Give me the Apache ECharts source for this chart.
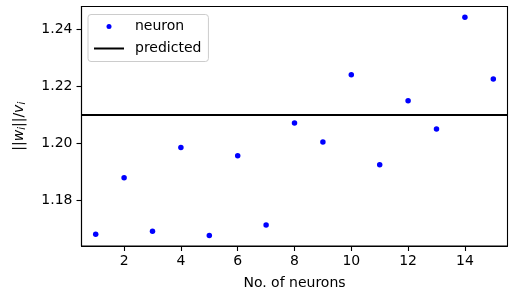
<!DOCTYPE html>
<html>
<head>
<meta charset="utf-8">
<script src="https://cdn.jsdelivr.net/npm/echarts@6/dist/echarts.min.js"></script>
<style>
  html, body { margin: 0; padding: 0; background: #fff; }
  #chart { width: 509px; height: 297px; }
</style>
</head>
<body>
<div id="chart"></div>
<script>
// 数据
const neuronX = [1, 2, 3, 4, 5, 6, 7, 8, 9, 10, 11, 12, 13, 14, 15]
const neuronY = [1.1681, 1.1879, 1.1692, 1.1985, 1.1677, 1.1956, 1.1714, 1.2071,
  1.2004, 1.2240, 1.1925, 1.2149, 1.2050, 1.2441, 1.2225]
const predicted = 1.2102
const xTicks = [2, 4, 6, 8, 10, 12, 14]
const yTicks = [1.18, 1.20, 1.22, 1.24]

const font = 'DejaVu Sans'
const chart = echarts.init(document.getElementById('chart'), null, { renderer: 'canvas' })

const option = {
  animation: false,
  backgroundColor: '#fff',
  textStyle: { fontFamily: font, color: '#000' },
  grid: {
    left: 81.5, right: 1.5, top: 6.5, bottom: 51,
    outerBoundsMode: 'none',
    containLabel: false,
    show: true, borderColor: '#000', borderWidth: 1.1, backgroundColor: 'transparent'
  },
  legend: {
    orient: 'vertical',
    left: 88, top: 14.5,
    padding: [5, 7, 6, 6],
    itemWidth: 30, itemHeight: 5, itemGap: 8,
    backgroundColor: 'rgba(255,255,255,0.8)',
    borderColor: '#cccccc', borderWidth: 1, borderRadius: 3,
    textStyle: { fontFamily: font, fontSize: 14, color: '#000', padding: [0, 0, 0, 6] },
    data: [
      { name: 'neuron', icon: 'circle' },
      { name: 'predicted', icon: 'path://M0,0L30,0L30,2L0,2Z' }
    ]
  },
  xAxis: {
    type: 'value',
    min: 0.5, max: 15.5,
    name: 'No. of neurons',
    nameLocation: 'middle',
    nameGap: 30,
    nameTextStyle: { fontFamily: font, fontSize: 14, color: '#000' },
    splitLine: { show: false },
    axisLine: { show: true, onZero: false, lineStyle: { color: '#000', width: 1.1 } },
    axisTick: { show: true, inside: false, length: 5, lineStyle: { color: '#000', width: 1.1 }, customValues: xTicks },
    axisLabel: { fontFamily: font, fontSize: 14, color: '#000', margin: 8, customValues: xTicks, formatter: v => String(v) }
  },
  yAxis: {
    type: 'value',
    min: 1.164, max: 1.2479,
    name: '||{w|w}{s|i}||/{w|v}{s|i}',
    nameLocation: 'middle',
    nameRotate: 90,
    nameGap: 54,
    nameTextStyle: {
      fontFamily: font, fontSize: 14, color: '#000',
      rich: {
        w: { fontFamily: font, fontSize: 14, fontStyle: 'italic', color: '#000' },
        s: { fontFamily: font, fontSize: 10, fontStyle: 'italic', color: '#000', verticalAlign: 'bottom', padding: [6, 0, 0, 0] }
      }
    },
    splitLine: { show: false },
    axisLine: { show: true, onZero: false, lineStyle: { color: '#000', width: 1.1 } },
    axisTick: { show: true, inside: false, length: 5, lineStyle: { color: '#000', width: 1.1 }, customValues: yTicks },
    axisLabel: { fontFamily: font, fontSize: 14, color: '#000', margin: 9, customValues: yTicks, formatter: v => v.toFixed(2) }
  },
  series: [
    {
      name: 'neuron',
      type: 'scatter',
      symbol: 'circle',
      symbolSize: 5.5,
      itemStyle: { color: '#0000ff', opacity: 1 },
      data: neuronX.map((x, i) => [x, neuronY[i]]),
      z: 3
    },
    {
      name: 'predicted',
      type: 'line',
      symbol: 'none',
      color: '#000',
      lineStyle: { color: '#000', width: 2 },
      data: [],
      markLine: {
        silent: true,
        symbol: 'none',
        label: { show: false },
        lineStyle: { color: '#000', width: 2, type: 'solid' },
        data: [{ yAxis: predicted }]
      },
      z: 4
    }
  ]
}

chart.setOption(option)
</script>
</body>
</html>
